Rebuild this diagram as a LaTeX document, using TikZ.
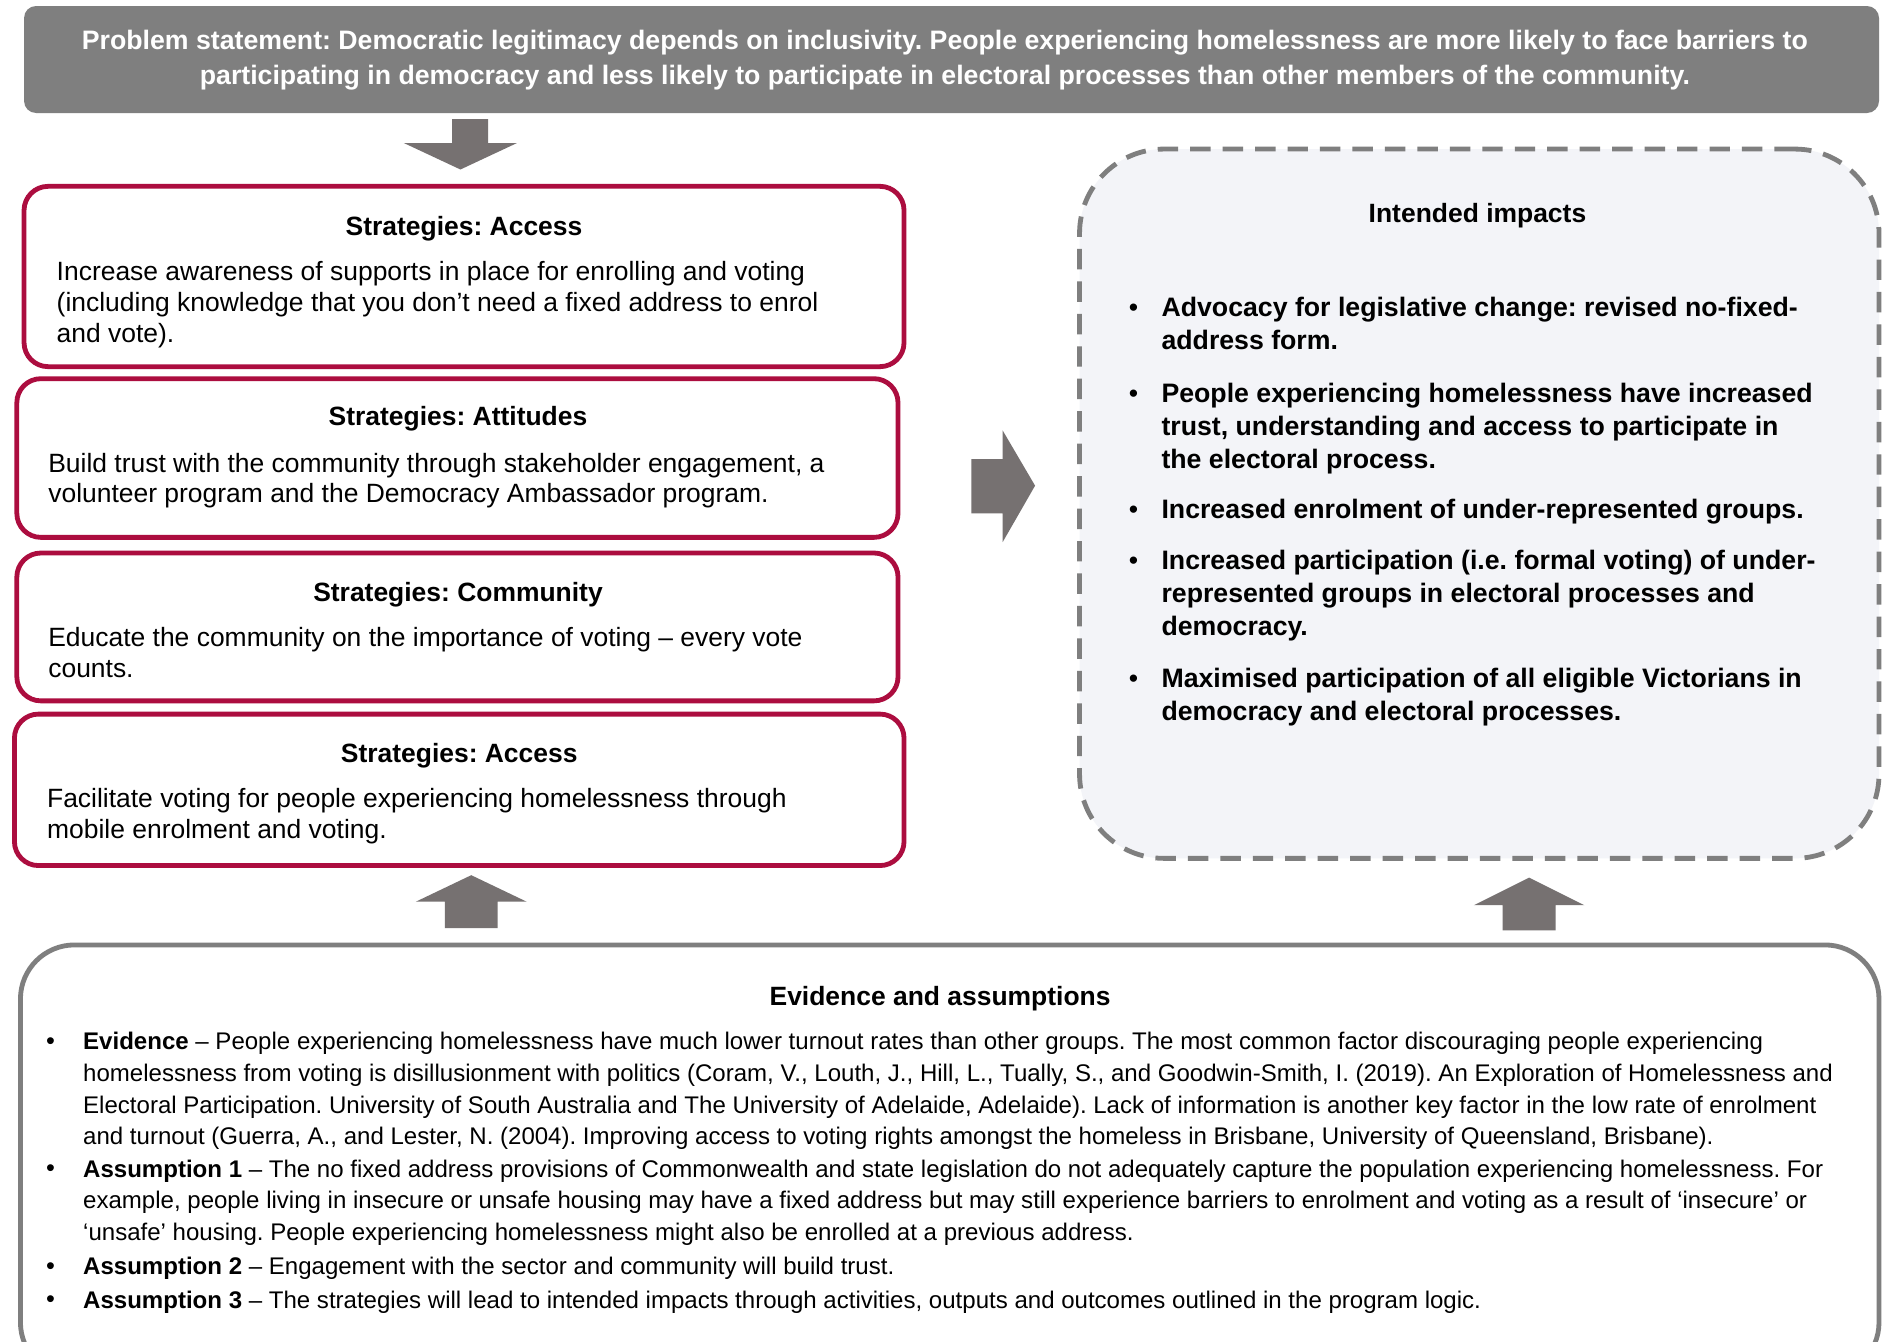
\documentclass[tikz,border=0pt]{standalone}
\usepackage{fontspec}
\setmainfont{Liberation Sans}
\frenchspacing
\definecolor{hdrgray}{HTML}{7F7F7F}
\definecolor{arrgray}{HTML}{767171}
\definecolor{crimson}{HTML}{AC0D3F}
\definecolor{impfill}{HTML}{F3F4F8}
\definecolor{evgray}{HTML}{7F7F7F}
\newcommand\tfix{\rule{0pt}{0.8em}}
\begin{document}
\begin{tikzpicture}[x=1pt,y=-1pt,
  stratbox/.style={draw=crimson,line width=4pt,rounded corners=20pt,fill=white,inner sep=0pt},
  boxtitle/.style={font=\fontsize{22}{26}\selectfont\bfseries,inner sep=0pt,anchor=base},
  bodytext/.style={font=\fontsize{22}{25.7}\selectfont,inner sep=0pt,anchor=north west,align=left},
  imptext/.style={font=\fontsize{22.2}{27.4}\selectfont\bfseries,inner sep=0pt,anchor=north west,align=left},
  evtext/.style={font=\fontsize{20}{26.4}\selectfont,inner sep=0pt,anchor=north west,align=left},
  impbul/.style={inner sep=0pt,anchor=base,font=\fontsize{22.2}{27.4}\selectfont},
  evbul/.style={inner sep=0pt,anchor=base,font=\fontsize{21}{26.4}\selectfont},
  blockarrow/.style={fill=arrgray,draw=none}]
\useasboundingbox (0,0) rectangle (1568,1116);
\fill[white] (0,0) rectangle (1568,1116);

% header
\node[fill=hdrgray,rounded corners=10pt,minimum width=1543pt,minimum height=89pt,inner sep=0pt] (hdr) at (791.5,49.5) {};
\node[font=\fontsize{22.2}{29}\selectfont\bfseries,text=white,align=center,inner sep=0pt,anchor=north] (hdrtext) at (786,23.2)
 {\tfix Problem statement: Democratic legitimacy depends on inclusivity. People experiencing homelessness are more likely to face barriers to\\
  participating in democracy and less likely to participate in electoral processes than other members of the community.};

% down arrow
\fill[blockarrow] (376,99) -- (406,99) -- (406,119) -- (430,119) -- (383,141) -- (336,119) -- (376,119) -- cycle;

% strategy boxes
\node[stratbox,minimum width=732pt,minimum height=150pt] (s1) at (386,230) {};
\node[boxtitle] (s1t) at (386,196) {Strategies: Access};
\node[bodytext] (s1b) at (47,215.9) {\tfix Increase awareness of supports in place for enrolling and voting\\(including knowledge that you don’t need a fixed address to enrol\\and vote).};

\node[stratbox,minimum width=733pt,minimum height=132pt] (s2) at (380.5,381) {};
\node[boxtitle] (s2t) at (381,354) {Strategies: Attitudes};
\node[bodytext] (s2b) at (40,374.9) {\tfix Build trust with the community through stakeholder engagement, a\\volunteer program and the Democracy Ambassador program.};

\node[stratbox,minimum width=733pt,minimum height=123pt] (s3) at (380.5,521.5) {};
\node[boxtitle] (s3t) at (381,500) {Strategies: Community};
\node[bodytext] (s3b) at (40,519.9) {\tfix Educate the community on the importance of voting – every vote\\counts.};

\node[stratbox,minimum width=740pt,minimum height=126pt] (s4) at (382,657) {};
\node[boxtitle] (s4t) at (382,634) {Strategies: Access};
\node[bodytext] (s4b) at (39,653.9) {\tfix Facilitate voting for people experiencing homelessness through\\mobile enrolment and voting.};

% right arrow
\fill[blockarrow] (808,382) -- (834,382) -- (834,358) -- (861,404) -- (834,451) -- (834,427) -- (808,427) -- cycle;

% impacts box
\node[draw=evgray,line width=4pt,dash pattern=on 17pt off 10pt,fill=impfill,rounded corners=70pt,minimum width=665pt,minimum height=590pt,inner sep=0pt] (imp) at (1230.5,419) {};
\node[boxtitle] (impt) at (1229,185) {Intended impacts};
\node[impbul] (ib1) at (943,263.5) {•};
\node[imptext] (i1) at (966,245.7) {\tfix Advocacy for legislative change: revised no-fixed-\\address form.};
\node[impbul] (ib2) at (943,334.5) {•};
\node[imptext] (i2) at (966,316.7) {\tfix People experiencing homelessness have increased\\trust, understanding and access to participate in\\the electoral process.};
\node[impbul] (ib3) at (943,431.5) {•};
\node[imptext] (i3) at (966,413.7) {\tfix Increased enrolment of under-represented groups.};
\node[impbul] (ib4) at (943,473.5) {•};
\node[imptext] (i4) at (966,455.7) {\tfix Increased participation (i.e. formal voting) of under-\\represented groups in electoral processes and\\democracy.};
\node[impbul] (ib5) at (943,571.5) {•};
\node[imptext] (i5) at (966,553.7) {\tfix Maximised participation of all eligible Victorians in\\democracy and electoral processes.};

% up arrows
\fill[blockarrow] (370,772) -- (414,772) -- (414,750) -- (438,750) -- (392,728) -- (346,750) -- (370,750) -- cycle;
\fill[blockarrow] (1250,774) -- (1294,774) -- (1294,753) -- (1318,753) -- (1272,730) -- (1226,753) -- (1250,753) -- cycle;

% evidence box
\draw[draw=evgray,line width=4pt,fill=white,rounded corners=45pt] (17,786) rectangle (1563,1145);
\node[boxtitle] (evt) at (782,836) {Evidence and assumptions};
\node[evbul] (eb1) at (42,873) {•};
\node[evtext] (e1) at (69,857) {\tfix\textbf{Evidence} – People experiencing homelessness have much lower turnout rates than other groups. The most common factor discouraging people experiencing\\
homelessness from voting is disillusionment with politics (Coram, V., Louth, J., Hill, L., Tually, S., and Goodwin-Smith, I. (2019). An Exploration of Homelessness and\\
Electoral Participation. University of South Australia and The University of Adelaide, Adelaide). Lack of information is another key factor in the low rate of enrolment\\
and turnout (Guerra, A., and Lester, N. (2004). Improving access to voting rights amongst the homeless in Brisbane, University of Queensland, Brisbane).};
\node[evbul] (eb2) at (42,979) {•};
\node[evtext] (e2) at (69,963) {\tfix\textbf{Assumption 1} – The no fixed address provisions of Commonwealth and state legislation do not adequately capture the population experiencing homelessness. For\\
example, people living in insecure or unsafe housing may have a fixed address but may still experience barriers to enrolment and voting as a result of ‘insecure’ or\\
‘unsafe’ housing. People experiencing homelessness might also be enrolled at a previous address.};
\node[evbul] (eb3) at (42,1060) {•};
\node[evtext] (e3) at (69,1044) {\tfix\textbf{Assumption 2} – Engagement with the sector and community will build trust.};
\node[evbul] (eb4) at (42,1088) {•};
\node[evtext] (e4) at (69,1072) {\tfix\textbf{Assumption 3} – The strategies will lead to intended impacts through activities, outputs and outcomes outlined in the program logic.};
\end{tikzpicture}
\end{document}
